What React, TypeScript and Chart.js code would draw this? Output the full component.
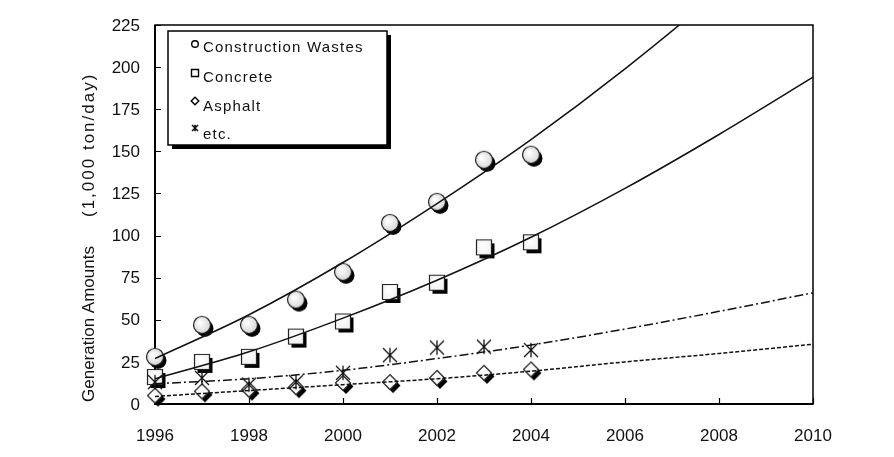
import React, { useEffect, useRef } from "react";
import { Chart, registerables } from "chart.js";

Chart.register(...registerables);

// ---- data ----
const years = [1996, 1997, 1998, 1999, 2000, 2001, 2002, 2003, 2004];
const constructionWastes = [28, 47, 47, 62, 78.5, 107.5, 120, 145, 148];
const concrete = [16, 25, 28, 40, 49, 66.5, 72, 93, 96];
const asphalt = [5, 7.5, 8.5, 10, 12.5, 13, 15.5, 18.5, 20.5];
const etcValues = [13, 15.5, 11.5, 13, 18.5, 29, 33.5, 34, 32];

const trendYears = [1996, 1998, 2000, 2002, 2004, 2006, 2008, 2010];
const constructionTrend = [27, 53, 84, 119, 157, 199, 245, 296];
const concreteTrend = [15, 31, 51, 73.5, 99, 128, 160, 194];
const asphaltTrend = [4.5, 8, 11.5, 15, 19.5, 25, 30, 35.5];
const etcTrend = [12, 15, 20, 27, 35, 44.5, 55, 66];

const xTickValues = [1996, 1998, 2000, 2002, 2004, 2006, 2008, 2010];
const yTickValues = [0, 25, 50, 75, 100, 125, 150, 175, 200, 225];
const legendLabels = ["Construction Wastes", "Concrete", "Asphalt", "etc."];
const yTitleMain = "Generation Amounts";
const yTitleUnit = "(1,000 ton/day)";

const FONT = "'Liberation Sans', Arial, sans-serif";

function pts(xs: number[], ys: number[]) {
  return xs.map((x, i) => ({ x, y: ys[i] }));
}

function drawShape(ctx: CanvasRenderingContext2D, kind: string, cx: number, cy: number, s: number) {
  ctx.beginPath();
  if (kind === "circle") {
    ctx.arc(cx, cy, s, 0, Math.PI * 2);
  } else if (kind === "square") {
    ctx.rect(cx - s, cy - s, 2 * s, 2 * s);
  } else if (kind === "diamond") {
    ctx.moveTo(cx, cy - s);
    ctx.lineTo(cx + s, cy);
    ctx.lineTo(cx, cy + s);
    ctx.lineTo(cx - s, cy);
    ctx.closePath();
  }
}

function drawStar(ctx: CanvasRenderingContext2D, cx: number, cy: number, s: number, lw: number) {
  ctx.save();
  ctx.strokeStyle = "#111";
  ctx.lineWidth = lw;
  ctx.beginPath();
  ctx.moveTo(cx - s, cy - s);
  ctx.lineTo(cx + s, cy + s);
  ctx.moveTo(cx + s, cy - s);
  ctx.lineTo(cx - s, cy + s);
  ctx.moveTo(cx, cy - s * 1.05);
  ctx.lineTo(cx, cy + s * 1.05);
  ctx.stroke();
  ctx.restore();
}

function makeMarker(kind: string, s: number): HTMLCanvasElement {
  const size = 30;
  const c = document.createElement("canvas");
  c.width = size;
  c.height = size;
  const ctx = c.getContext("2d") as CanvasRenderingContext2D;
  const m = size / 2;
  if (kind === "star") {
    drawStar(ctx, m, m, s, 1.3);
    return c;
  }
  ctx.fillStyle = "#000";
  drawShape(ctx, kind, m + 3, m + 3.5, s);
  ctx.fill();
  const g = ctx.createRadialGradient(m - s * 0.3, m - s * 0.3, 1, m, m, s);
  g.addColorStop(0, "#ffffff");
  g.addColorStop(1, kind === "circle" ? "#d8d8d8" : "#f2f2f2");
  ctx.fillStyle = g;
  drawShape(ctx, kind, m, m, s);
  ctx.fill();
  ctx.strokeStyle = "#222";
  ctx.lineWidth = 1.2;
  ctx.stroke();
  return c;
}

const framePlugin = {
  id: "frame",
  beforeDatasetsDraw(chart: any) {
    const { ctx, chartArea, scales } = chart;
    const { left, right, top, bottom } = chartArea;
    ctx.save();
    ctx.strokeStyle = "#000";
    ctx.lineWidth = 1.5;
    ctx.strokeRect(left, top, right - left, bottom - top);
    ctx.lineWidth = 2;
    ctx.beginPath();
    ctx.moveTo(left, top);
    ctx.lineTo(left, bottom);
    ctx.lineTo(right, bottom);
    ctx.stroke();
    ctx.lineWidth = 1.2;
    ctx.beginPath();
    yTickValues.forEach((v) => {
      const py = Math.round(scales.y.getPixelForValue(v)) + 0.5;
      ctx.moveTo(left, py);
      ctx.lineTo(left + 6, py);
    });
    xTickValues.forEach((v) => {
      const px = Math.round(scales.x.getPixelForValue(v)) + 0.5;
      ctx.moveTo(px, bottom);
      ctx.lineTo(px, bottom - 6);
    });
    ctx.stroke();
    // y tick labels
    ctx.fillStyle = "#111";
    ctx.font = `17px ${FONT}`;
    ctx.textAlign = "right";
    ctx.textBaseline = "middle";
    yTickValues.forEach((v) => {
      ctx.fillText(String(v), left - 15, scales.y.getPixelForValue(v) + 1);
    });
    ctx.restore();
  },
  afterDraw(chart: any) {
    const { ctx } = chart;
    // y-axis title
    ctx.save();
    ctx.fillStyle = "#111";
    ctx.translate(81, 0);
    ctx.rotate(-Math.PI / 2);
    ctx.textBaseline = "middle";
    ctx.textAlign = "left";
    ctx.font = `17px ${FONT}`;
    ctx.fillText(yTitleMain, -394, 0);
    (ctx as any).letterSpacing = "2px";
    ctx.fillText(yTitleUnit, -209, 0);
    ctx.restore();

    // legend
    const bx = 160, by = 23, bw = 219, bh = 114;
    ctx.save();
    ctx.fillStyle = "#000";
    ctx.fillRect(bx + 4, by + 4, bw, bh);
    ctx.fillStyle = "#fff";
    ctx.fillRect(bx, by, bw, bh);
    ctx.strokeStyle = "#000";
    ctx.lineWidth = 1.5;
    ctx.strokeRect(bx, by, bw, bh);
    const kinds = ["circle", "square", "diamond", "star"];
    const markerY = [36, 65, 93, 120];
    const textY = [40, 70, 99, 127];
    kinds.forEach((k, i) => {
      const mx = 187, my = markerY[i];
      if (k === "star") {
        drawStar(ctx, mx, my, 3, 1.6);
      } else {
        drawShape(ctx, k, mx, my, k === "circle" ? 3.3 : k === "square" ? 3.5 : 3.8);
        ctx.fillStyle = "#fff";
        ctx.fill();
        ctx.strokeStyle = "#000";
        ctx.lineWidth = 1.4;
        ctx.stroke();
      }
    });
    ctx.fillStyle = "#111";
    ctx.font = `15px ${FONT}`;
    (ctx as any).letterSpacing = "1.2px";
    ctx.textBaseline = "middle";
    ctx.textAlign = "left";
    legendLabels.forEach((t, i) => ctx.fillText(t, 195, textY[i]));
    ctx.restore();
  },
};

export default function App() {
  const ref = useRef<HTMLCanvasElement | null>(null);
  useEffect(() => {
    if (!ref.current) return;
    const circle = makeMarker("circle", 8.5);
    const square = makeMarker("square", 7.5);
    const diamond = makeMarker("diamond", 7.5);
    const star = makeMarker("star", 7);

    const trend = (label: string, ys: number[], dash: number[]) => ({
      label,
      data: pts(trendYears, ys),
      showLine: true,
      borderColor: "#111",
      borderWidth: 1.5,
      borderDash: dash,
      pointRadius: 0,
      cubicInterpolationMode: "monotone" as const,
      fill: false,
    });
    const marks = (label: string, ys: number[], img: HTMLCanvasElement) => ({
      label,
      data: pts(years, ys),
      showLine: false,
      pointStyle: img,
      pointRadius: 10,
      clip: false,
    });

    const chart = new Chart(ref.current, {
      type: "scatter",
      data: {
        datasets: [
          trend("trend-c", constructionTrend, []),
          trend("trend-k", concreteTrend, []),
          trend("trend-e", etcTrend, [9, 3, 2, 3]),
          trend("trend-a", asphaltTrend, [4, 2]),
          marks(legendLabels[3], etcValues, star),
          marks(legendLabels[2], asphalt, diamond),
          marks(legendLabels[1], concrete, square),
          marks(legendLabels[0], constructionWastes, circle),
        ] as any,
      },
      options: {
        responsive: false,
        animation: false,
        layout: { padding: { left: 0, top: 17, right: 73, bottom: 0 } },
        plugins: { legend: { display: false }, tooltip: { enabled: false } },
        scales: {
          x: {
            type: "linear",
            min: 1996,
            max: 2010,
            grid: { display: false, drawTicks: false },
            border: { display: false },
            afterBuildTicks: (s: any) => {
              s.ticks = xTickValues.map((v) => ({ value: v }));
            },
            afterFit: (s: any) => {
              s.height = 45;
            },
            ticks: {
              color: "#111",
              padding: 22,
              maxRotation: 0,
              autoSkip: false,
              font: { family: FONT, size: 17 },
              callback: (v: any) => String(v),
            },
          },
          y: {
            type: "linear",
            min: 0,
            max: 225,
            grid: { display: false, drawTicks: false },
            border: { display: false },
            afterBuildTicks: (s: any) => {
              s.ticks = yTickValues.map((v) => ({ value: v }));
            },
            afterFit: (s: any) => {
              s.width = 147;
            },
            ticks: { display: false },
          },
        },
      },
      plugins: [framePlugin],
    });
    return () => chart.destroy();
  }, []);

  return (
    <div>
      <canvas ref={ref} width={878} height={441} style={{ display: "block" }} />
    </div>
  );
}
